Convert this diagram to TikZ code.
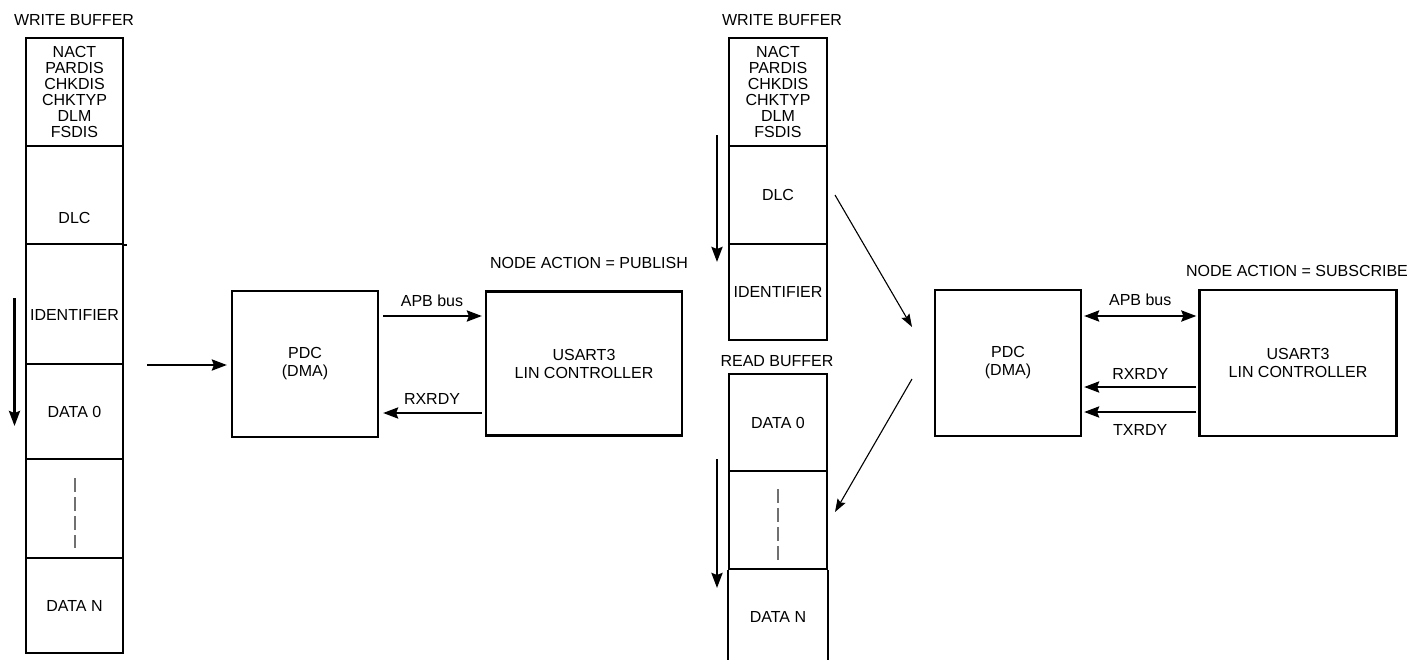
\documentclass[tikz,border=0pt]{standalone}
\usepackage{fontspec}
\setmainfont{Liberation Sans}
\usetikzlibrary{arrows.meta}
\definecolor{dashgray}{HTML}{707070}
\begin{document}
\begin{tikzpicture}[x=1pt,y=-1pt,
  font=\fontsize{16}{16}\selectfont,
  cell/.style={draw, line width=2.2pt, minimum width=97pt, inner sep=0pt, align=center},
  box/.style={draw, line width=2.2pt, inner sep=0pt, align=center, font=\fontsize{16}{18}\selectfont},
  txt/.style={inner sep=0pt, align=center},
  bigarr/.style={line width=2.6pt, -{Stealth[length=15pt,width=11pt,inset=2pt]}},
  bothArr/.style={line width=2.6pt, {Stealth[length=15pt,width=11pt,inset=2pt]}-{Stealth[length=15pt,width=11pt,inset=2pt]}},
  thinarr/.style={line width=1.1pt, -{Stealth[length=13pt,width=9pt,inset=2pt]}},
  dashline/.style={draw=dashgray, line width=1.5pt, dash pattern=on 14pt off 5pt},
  sideline/.style={line width=2.2pt}
]
\useasboundingbox (0,0) rectangle (1411,659);

% ---------- left write buffer ----------
\node[txt] (lwb) at (74,20) {WRITE BUFFER};
\node[cell, minimum height=108pt] (lh) at (74.5,92) {NACT\\PARDIS\\CHKDIS\\CHKTYP\\DLM\\FSDIS};
\node[cell, minimum height=98pt] (ldlc) at (74.5,195) {};
\node[txt] (ldlct) at (74.5,218) {DLC};
\node[cell, minimum height=120pt] (lid) at (74.5,304) {};
\node[txt] (lidt) at (74.5,315) {IDENTIFIER};
\node[cell, minimum height=95pt] (ld0) at (74.5,411.5) {DATA 0};
\node[cell, minimum height=99pt] (ldd) at (74.5,508.5) {};
\node[cell, minimum height=95pt] (ldn) at (74.5,605.5) {DATA N};
\draw[sideline] (ldlc.south east) -- ++(3,0);
\draw[dashline] (75,478) -- (75,548);
\coordinate (la1) at (14.5,298);
\coordinate (la2) at (14.5,426);
\draw[bigarr] (la1) -- (la2);

% ---------- left PDC / USART ----------
\node[box, minimum width=146pt, minimum height=146pt] (pdcl) at (305,364) {PDC\\(DMA)};
\node[box, minimum width=196pt, minimum height=144pt] (usl) at (584,363.5) {USART3\\LIN CONTROLLER};
\node[txt] (pub) at (589,263) {NODE ACTION = PUBLISH};
\coordinate (in1) at (147,365);
\draw[bigarr, shorten >=4pt] (in1) -- (in1 -| pdcl.west);
\draw[bigarr, shorten <=4pt, shorten >=3pt] ([yshift=48pt]pdcl.east) -- ([yshift=48pt]pdcl.east -| usl.west)
  node[txt, midway, yshift=15pt] (lapb) {APB bus};
\draw[bigarr, shorten <=3pt, shorten >=4pt] ([yshift=-49pt]pdcl.east -| usl.west) -- ([yshift=-49pt]pdcl.east)
  node[txt, midway, yshift=14pt] (lrx) {RXRDY};

% ---------- middle write buffer ----------
\node[txt] (mwb) at (782,20) {WRITE BUFFER};
\node[cell, minimum width=98pt, minimum height=108pt] (mh) at (778,92) {NACT\\PARDIS\\CHKDIS\\CHKTYP\\DLM\\FSDIS};
\node[cell, minimum width=98pt, minimum height=98pt] (mdlc) at (778,195) {DLC};
\node[cell, minimum width=98pt, minimum height=96pt] (mid) at (778,292) {IDENTIFIER};
\coordinate (ma1) at (717,135);
\coordinate (ma2) at (717,262);
\draw[bigarr] (ma1) -- (ma2);

% ---------- read buffer ----------
\node[txt] (rbl) at (777,361) {READ BUFFER};
\node[cell, minimum width=98pt, minimum height=97pt] (rd0) at (778,422.5) {DATA 0};
\node[cell, minimum width=98pt, minimum height=98pt] (rdd) at (778,520) {};
\node[txt] (rdn) at (778,617) {DATA N};
\draw[sideline] (rdd.south west) -- ++(0,92);
\draw[sideline] (rdd.south east) -- ++(0,92);
\draw[dashline] (778,489) -- (778,560);
\coordinate (ra1) at (717,459);
\coordinate (ra2) at (717,588);
\draw[bigarr] (ra1) -- (ra2);

% ---------- diagonal arrows ----------
\coordinate (d1a) at (835,195);
\coordinate (d1b) at (912,327);
\coordinate (d2a) at (912,379);
\coordinate (d2b) at (835,512);
\draw[thinarr] (d1a) -- (d1b);
\draw[thinarr] (d2a) -- (d2b);

% ---------- right PDC / USART ----------
\node[box, minimum width=146pt, minimum height=146pt] (pdcr) at (1008,363) {PDC\\(DMA)};
\node[box, minimum width=197pt, minimum height=146pt] (usr) at (1298,363) {USART3\\LIN CONTROLLER};
\node[txt] (sub) at (1297,271) {NODE ACTION = SUBSCRIBE};
\draw[bothArr, shorten <=2pt, shorten >=2pt] ([yshift=47pt]pdcr.east) -- ([yshift=47pt]pdcr.east -| usr.west)
  node[txt, midway, yshift=16pt] (rapb) {APB bus};
\draw[bigarr, shorten <=2pt, shorten >=2pt] ([yshift=-24pt]pdcr.east -| usr.west) -- ([yshift=-24pt]pdcr.east)
  node[txt, midway, yshift=13pt] (rrx) {RXRDY};
\draw[bigarr, shorten <=2pt, shorten >=2pt] ([yshift=-49pt]pdcr.east -| usr.west) -- ([yshift=-49pt]pdcr.east)
  node[txt, midway, yshift=-18pt] (rtx) {TXRDY};
\end{tikzpicture}
\end{document}
